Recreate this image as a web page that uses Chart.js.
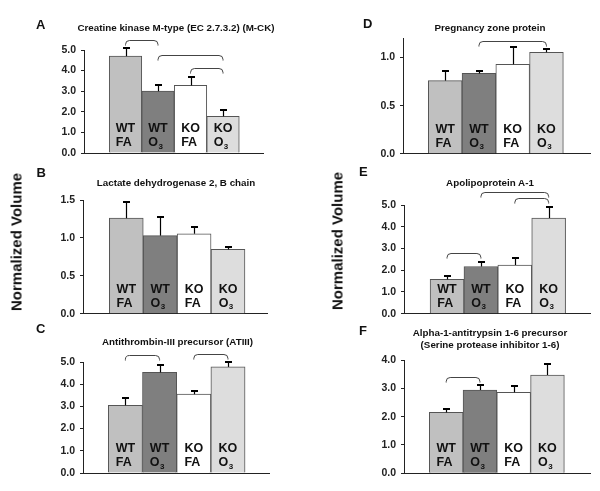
<!DOCTYPE html>
<html>
<head>
<meta charset="utf-8">
<script src="https://cdn.jsdelivr.net/npm/chart.js@4"></script>
<style>
  body { margin: 0; background: #fff; }
  #fig { position: relative; width: 600px; height: 491px; overflow: hidden; font-family: 'Liberation Sans', Arial, sans-serif; color: #111; }
  #fig canvas { position: absolute; }
  .txt { position: absolute; font-weight: bold; white-space: nowrap; line-height: 1; }
  .letter { font-size: 13px; }
  .title { font-size: 9.8px; transform: translateX(-50%); text-align: center; }
  .ylab { font-size: 15px; transform: translate(-50%, -50%) rotate(-90deg); }
</style>
</head>
<body>
<div id="fig"></div>
<script>
// groups (bar captions)
const groups = ['WT', 'WT', 'KO', 'KO'];
const exposures = ['FA', 'O3', 'FA', 'O3'];

// A - Creatine kinase
const ckValues = [4.7, 3.0, 3.28, 1.78];
const ckErrors = [0.38, 0.28, 0.4, 0.3];
const ckBrackets = [[0, 1, 5.5], [1, 3, 4.78], [2, 3, 4.11]];

// B - Lactate dehydrogenase
const ldhValues = [1.26, 1.03, 1.055, 0.848];
const ldhErrors = [0.21, 0.25, 0.085, 0.026];
const ldhBrackets = [];

// C - Antithrombin-III
const atValues = [3.05, 4.53, 3.55, 4.78];
const atErrors = [0.32, 0.32, 0.15, 0.24];
const atBrackets = [[0, 1, 5.3], [2, 3, 5.38]];

// D - Pregnancy zone protein
const pzpValues = [0.76, 0.835, 0.93, 1.055];
const pzpErrors = [0.095, 0.025, 0.175, 0.035];
const pzpBrackets = [[1, 3, 1.175]];

// E - Apolipoprotein A-1
const apoValues = [1.58, 2.17, 2.24, 4.4];
const apoErrors = [0.15, 0.2, 0.32, 0.52];
const apoBrackets = [[0, 1, 2.79], [1, 3, 5.6], [2, 3, 5.3]];

// F - Alpha-1-antitrypsin
const a1atValues = [2.15, 2.94, 2.86, 3.47];
const a1atErrors = [0.13, 0.18, 0.22, 0.38];
const a1atBrackets = [[0, 1, 3.39]];

const barColors = ['#c0c0c0', '#7f7f7f', '#ffffff', '#dddddd'];

// canvas: [left, top, width, height], area: [left, top, right, bottom]
const panels = [
    { letter: 'A', at: [36, 17.5], title: ['Creatine kinase M-type (EC 2.7.3.2) (M-CK)'], titleAt: [176, 23.3],
      values: ckValues, errors: ckErrors, brackets: ckBrackets, yMax: 5, yStep: 1,
      canvas: [0, 0, 300, 165], area: [84, 50, 263, 153], xRange: [-1.277, 4.23] },
    { letter: 'B', at: [36.5, 165.7], title: ['Lactate dehydrogenase 2, B chain'], titleAt: [176, 178.3],
      values: ldhValues, errors: ldhErrors, brackets: ldhBrackets, yMax: 1.5, yStep: 0.5,
      canvas: [0, 165, 300, 160], area: [83, 200, 267, 316], xRange: [-1.277, 4.15] },
    { letter: 'C', at: [36, 322.3], title: ['Antithrombin-III precursor (ATIII)'], titleAt: [177.5, 336.7],
      values: atValues, errors: atErrors, brackets: atBrackets, yMax: 5, yStep: 1,
      canvas: [0, 325, 300, 166], area: [83, 362, 269, 473], xRange: [-1.24, 4.2] },
    { letter: 'D', at: [363, 17.3], title: ['Pregnancy zone protein'], titleAt: [490, 23.3],
      values: pzpValues, errors: pzpErrors, brackets: pzpBrackets, yMax: 1.2, yStep: 0.5,
      canvas: [300, 0, 300, 165], area: [403, 38.3, 590, 157.7], xRange: [-1.25, 4.29] },
    { letter: 'E', at: [359, 165], title: ['Apolipoprotein A-1'], titleAt: [490, 178.3],
      values: apoValues, errors: apoErrors, brackets: apoBrackets, yMax: 5, yStep: 1,
      canvas: [300, 165, 300, 160], area: [404, 205, 590, 316], xRange: [-1.27, 4.22] },
    { letter: 'F', at: [359, 324], title: ['Alpha-1-antitrypsin 1-6 precursor', '(Serine protease inhibitor 1-6)'], titleAt: [490, 326.9],
      values: a1atValues, errors: a1atErrors, brackets: a1atBrackets, yMax: 4, yStep: 1,
      canvas: [300, 325, 300, 166], area: [404, 360, 590, 473.3], xRange: [-1.25, 4.26] }
];

const fig = document.getElementById('fig');

function addText(cls, text, left, top, extra) {
    const d = document.createElement('div');
    d.className = 'txt ' + cls;
    d.innerHTML = text;
    d.style.left = left + 'px';
    d.style.top = top + 'px';
    if (extra) Object.assign(d.style, extra);
    fig.appendChild(d);
}

// error bars, captions inside bars, significance brackets
function makeDecor(p) {
    return {
        id: 'decor',
        afterDatasetsDraw(chart) {
            const ctx = chart.ctx;
            const xs = chart.scales.x, ys = chart.scales.y;
            const bars = chart.getDatasetMeta(0).data;
            const base = ys.getPixelForValue(0);
            ctx.save();
            bars.forEach((bar, i) => {
                const top = ys.getPixelForValue(p.values[i]);
                const et = ys.getPixelForValue(p.values[i] + p.errors[i]);
                const bx = Math.round(bar.x) + 0.5;
                ctx.strokeStyle = '#000';
                ctx.lineWidth = 1.2;
                ctx.beginPath();
                ctx.moveTo(bx, top);
                ctx.lineTo(bx, et);
                ctx.stroke();
                ctx.fillStyle = '#000';
                ctx.fillRect(bx - 3.5, Math.round(et) - 1, 7, 2);

                ctx.fillStyle = '#111';
                ctx.textAlign = 'left';
                ctx.textBaseline = 'alphabetic';
                ctx.font = 'bold 12.5px "Liberation Sans", Arial, sans-serif';
                const w = ctx.measureText(groups[i]).width;
                const lx = bar.x - w / 2;
                ctx.fillText(groups[i], lx, base - 21);
                if (exposures[i] === 'O3') {
                    ctx.fillText('O', lx, base - 7);
                    const ow = ctx.measureText('O').width;
                    ctx.font = 'bold 8px "Liberation Sans", Arial, sans-serif';
                    ctx.fillText('3', lx + ow + 0.5, base - 4.5);
                } else {
                    ctx.fillText(exposures[i], lx, base - 7);
                }
            });
            ctx.strokeStyle = '#444';
            ctx.lineWidth = 1;
            const r = 4, h = 5;
            p.brackets.forEach(([a, b, lvl]) => {
                const x1 = xs.getPixelForValue(a), x2 = xs.getPixelForValue(b);
                const yl = Math.round(ys.getPixelForValue(lvl)) + 0.5;
                ctx.beginPath();
                ctx.moveTo(x1, yl + h);
                ctx.arcTo(x1, yl, x1 + r, yl, r);
                ctx.arcTo(x2, yl, x2, yl + h, r);
                ctx.lineTo(x2, yl + h);
                ctx.stroke();
            });
            ctx.restore();
        }
    };
}

panels.forEach(p => {
    const [cx, cy, cw, ch] = p.canvas;
    const [al, at, ar, ab] = p.area;
    const cv = document.createElement('canvas');
    cv.width = cw;
    cv.height = ch;
    cv.style.left = cx + 'px';
    cv.style.top = cy + 'px';
    fig.appendChild(cv);

    new Chart(cv, {
        type: 'bar',
        data: {
            datasets: [{
                data: p.values.map((v, i) => ({ x: i, y: v })),
                backgroundColor: barColors,
                borderColor: '#555',
                borderWidth: 1,
                barPercentage: 1,
                categoryPercentage: 1
            }]
        },
        options: {
            responsive: false,
            animation: false,
            devicePixelRatio: 1,
            layout: { padding: { left: 0, top: at - cy, right: cx + cw - ar, bottom: cy + ch - ab } },
            plugins: { legend: { display: false }, tooltip: { enabled: false } },
            scales: {
                x: {
                    type: 'linear',
                    offset: false,
                    min: p.xRange[0],
                    max: p.xRange[1],
                    ticks: { display: false, stepSize: 1, includeBounds: false },
                    grid: { display: false, drawTicks: false, offset: false },
                    border: { color: '#222' }
                },
                y: {
                    min: 0,
                    max: p.yMax,
                    afterFit: s => { s.width = al - cx; },
                    ticks: {
                        stepSize: p.yStep,
                        includeBounds: false,
                        padding: 5,
                        color: '#222',
                        font: { family: '"Liberation Sans", Arial, sans-serif', weight: 'bold', size: 10.5 },
                        callback: v => v.toFixed(1)
                    },
                    grid: { drawOnChartArea: false, tickLength: 3, color: '#222' },
                    border: { color: '#222' }
                }
            }
        },
        plugins: [makeDecor(p)]
    });

    addText('letter', p.letter, p.at[0], p.at[1]);
    addText('title', p.title.join('<br>'), p.titleAt[0], p.titleAt[1],
        p.title.length > 1 ? { lineHeight: '12.6px' } : null);
});

addText('ylab', 'Normalized Volume', 16, 242);
addText('ylab', 'Normalized Volume', 337, 241);
</script>
</body>
</html>
